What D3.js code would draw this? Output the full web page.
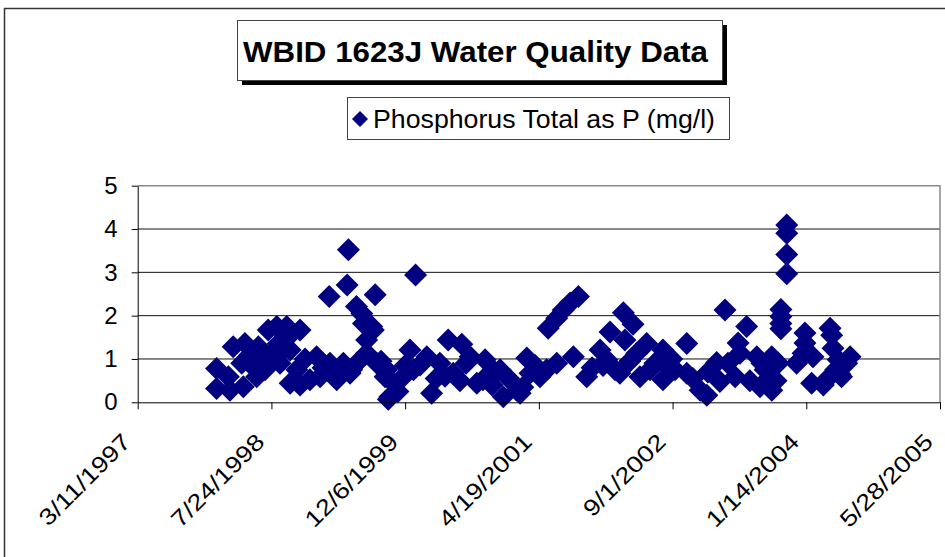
<!DOCTYPE html>
<html>
<head>
<meta charset="utf-8">
<script src="https://cdn.jsdelivr.net/npm/d3@7"></script>
<style>
  body { margin: 0; background: #fff; }
  svg { display: block; font-family: Arial, "Liberation Sans", sans-serif; }
</style>
</head>
<body>
<svg id="chart" width="945" height="557"></svg>
<script>
"use strict";

// sample dates as Excel serial day numbers, and the measured values (mg/l)
const sampleSerial = [
  35795, 35795, 35839, 35845, 35857, 35895, 35889, 35901, 35932, 35945,
  35951, 35988, 35995, 36020, 36032, 36057, 36070, 36063, 36107, 36095,
  36070, 36107, 36144, 36169, 36182, 36219, 36244, 36269, 36294, 36319,
  36216, 36283, 36288, 36318, 36388, 36338, 36344, 36356, 36356, 36381,
  36394, 36375, 36431, 36443, 36437, 36456, 36425, 36493, 36518, 36531,
  36539, 36473, 36556, 36581, 36599, 36661, 36712, 36680, 36630, 36743,
  36768, 36799, 36791, 36836, 36867, 36892, 36917, 36930, 36955, 36967,
  37004, 37029, 37035, 37067, 37091, 37117, 37148, 37067, 37129, 37179,
  37229, 37254, 37266, 37303, 37316, 37352, 37322, 37366, 37403, 37416,
  37378, 37464, 37464, 37509, 37553, 37553, 37603, 37628, 37665, 37677,
  37696, 37734, 37745, 37752, 37777, 37815, 37827, 37871, 37871, 37846,
  37927, 37927, 37927, 37927, 37905, 37905, 37905, 37905, 37964, 37995,
  37995, 37988, 38025, 38020, 38064, 38089, 38095, 38100, 38119, 38151,
  38132, 38081, 38126, 38164,
  37434, 37497, 37576, 37632, 37707, 37789, 37834, 37887, 37895, 37199,
  37285, 36649, 36705, 36728, 36825, 36855, 36616, 36986, 35965, 36126,
  36193, 36025, 35976, 35920, 36040, 36230, 36300, 36410, 36500, 36940,
  37240, 37340, 37480, 38110
];
const phosphorus = [
  0.78, 0.32, 0.59, 0.28, 1.28, 0.36, 0.90, 1.36, 0.82, 0.59,
  1.28, 1.67, 1.05, 1.75, 0.90, 1.75, 1.21, 1.51, 1.67, 0.75,
  0.44, 0.40, 0.52, 1.05, 0.59, 0.90, 0.52, 0.90, 0.67, 0.90,
  2.44, 2.71, 3.52, 2.21, 2.48, 2.05, 1.82, 1.44, 1.13, 1.67,
  0.90, 1.75, 0.75, 0.13, 0.07, 0.44, 0.59, 0.59, 1.21, 0.75,
  2.94, 0.25, 0.86, 1.05, 0.21, 1.44, 1.34, 0.67, 0.90, 1.05,
  0.44, 0.98, 0.52, 0.70, 0.13, 0.52, 0.28, 0.21, 1.02, 0.67,
  0.59, 0.75, 1.71, 1.94, 2.13, 2.29, 2.44, 0.90, 1.05, 0.59,
  1.21, 0.98, 1.62, 0.67, 2.07, 1.80, 1.44, 1.13, 1.36, 0.75,
  0.59, 1.21, 0.52, 0.75, 1.36, 0.67, 0.28, 0.16, 0.92, 0.48,
  2.13, 0.59, 1.37, 1.13, 1.75, 1.05, 0.36, 0.28, 1.05, 0.75,
  4.09, 3.90, 3.41, 2.97, 2.14, 1.98, 1.82, 1.70, 0.90, 1.60,
  1.37, 1.13, 1.05, 0.44, 0.40, 1.71, 1.55, 1.25, 0.98, 0.90,
  0.59, 0.55, 0.65, 1.05,
  0.90, 1.00, 0.55, 0.70, 0.90, 0.50, 0.90, 0.50, 0.90, 0.80,
  0.75, 0.60, 0.50, 0.90, 0.40, 0.75, 0.55, 0.85, 1.00, 1.00,
  0.80, 1.35, 0.75, 1.10, 1.20, 0.70, 0.75, 0.95, 0.85, 0.35,
  0.85, 0.95, 0.85, 0.75
];

const yTicks = [0, 1, 2, 3, 4, 5];
const xTickSerials = [35500, 36000, 36500, 37000, 37500, 38000, 38500];

const chartTitle = "WBID 1623J Water Quality Data";
const seriesName = "Phosphorus Total as P (mg/l)";

// excel serial -> date
const serialToDate = s => new Date(Date.UTC(1899, 11, 30) + s * 864e5);

const data = sampleSerial.map((s, i) => ({ date: serialToDate(s), value: phosphorus[i] }));

const svg = d3.select("#chart");
const navy = "#000080";

// plot area bounds
const plot = { left: 137.7, right: 940, top: 185.7, bottom: 402.3 };

const x = d3.scaleUtc()
  .domain([serialToDate(xTickSerials[0]), serialToDate(xTickSerials[xTickSerials.length - 1])])
  .range([plot.left, plot.right]);

const y = d3.scaleLinear()
  .domain([0, 5])
  .range([plot.bottom, plot.top]);

// outer chart frame
svg.append("rect")
  .attr("x", 4.5).attr("y", 8.5)
  .attr("width", 950).attr("height", 560)
  .attr("fill", "none").attr("stroke", "#333").attr("stroke-width", 1.5);

// gridlines
svg.append("g")
  .selectAll("line")
  .data(yTicks.filter(d => d > 0 && d < 5))
  .join("line")
  .attr("x1", plot.left).attr("x2", plot.right)
  .attr("y1", d => y(d)).attr("y2", d => y(d))
  .attr("stroke", "#111").attr("stroke-width", 1);

// plot area border (top and right)
svg.append("path")
  .attr("d", `M${plot.left},${plot.top}H${plot.right}V${plot.bottom}`)
  .attr("fill", "none").attr("stroke", "#888").attr("stroke-width", 1.5);

// points
const diamond = "M0,-11.5L11.5,0L0,11.5L-11.5,0Z";
svg.append("g")
  .selectAll("path")
  .data(data)
  .join("path")
  .attr("d", diamond)
  .attr("transform", d => `translate(${x(d.date)},${y(d.value)})`)
  .attr("fill", navy);

// y axis
const yAxis = svg.append("g")
  .attr("transform", `translate(${plot.left},0)`)
  .call(d3.axisLeft(y).tickValues(yTicks).tickSize(6).tickSizeOuter(0).tickPadding(14).tickFormat(d3.format("d")));
yAxis.select(".domain").attr("stroke", "#000");
yAxis.selectAll(".tick line").attr("stroke", "#000");
yAxis.selectAll(".tick text")
  .attr("font-size", 24)
  .attr("font-family", "Arial, 'Liberation Sans', sans-serif")
  .attr("fill", "#000");

// x axis
const fmt = d3.utcFormat("%-m/%-d/%Y");
const xAxis = svg.append("g")
  .attr("transform", `translate(0,${plot.bottom})`)
  .call(d3.axisBottom(x).tickValues(xTickSerials.map(serialToDate)).tickSize(7).tickSizeOuter(0).tickFormat(fmt));
xAxis.select(".domain").attr("stroke", "#000");
xAxis.selectAll(".tick line").attr("stroke", "#000");
xAxis.selectAll(".tick text")
  .attr("font-size", 23)
  .attr("font-family", "Arial, 'Liberation Sans', sans-serif")
  .attr("fill", "#000")
  .attr("text-anchor", "end")
  .attr("x", 0).attr("y", 0).attr("dy", 0)
  .attr("transform", "translate(-6,41) rotate(-45) scale(1.18,1)");

// title box with shadow
svg.append("rect")
  .attr("x", 242).attr("y", 25).attr("width", 485).attr("height", 60)
  .attr("fill", "#000");
svg.append("rect")
  .attr("x", 237.5).attr("y", 20.5).attr("width", 485).attr("height", 60)
  .attr("fill", "#fff").attr("stroke", "#444").attr("stroke-width", 1);
svg.append("text")
  .attr("x", 243).attr("y", 62)
  .attr("font-size", 30).attr("font-weight", "bold")
  .attr("textLength", 465).attr("lengthAdjust", "spacingAndGlyphs")
  .text(chartTitle);

// legend
const legend = svg.append("g");
legend.append("rect")
  .attr("x", 347.5).attr("y", 97.5).attr("width", 382).attr("height", 42)
  .attr("fill", "#fff").attr("stroke", "#444").attr("stroke-width", 1);
legend.append("path")
  .attr("d", "M0,-8L8,0L0,8L-8,0Z")
  .attr("transform", "translate(360,119)")
  .attr("fill", navy);
legend.append("text")
  .attr("x", 373).attr("y", 128)
  .attr("font-size", 26)
  .attr("textLength", 342).attr("lengthAdjust", "spacingAndGlyphs")
  .text(seriesName);
</script>
</body>
</html>
